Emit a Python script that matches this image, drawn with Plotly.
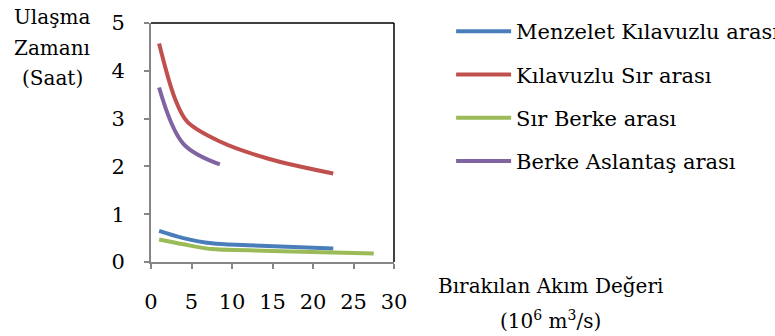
import plotly.graph_objects as go

# Released discharge (10^6 m3/s) and travel time (hours) per river reach
series_names = [
    "Menzelet Kılavuzlu arası",
    "Kılavuzlu Sır arası",
    "Sır Berke arası",
    "Berke Aslantaş arası",
]
series_x = [
    [1, 4, 7.5, 12, 22.5],
    [1, 3, 4.5, 8.5, 14.3, 22.5],
    [1, 4, 7.5, 12, 22.5, 27.5],
    [1, 4, 8.5],
]
series_y = [
    [0.65, 0.50, 0.39, 0.35, 0.28],
    [4.57, 3.40, 2.93, 2.52, 2.17, 1.85],
    [0.47, 0.37, 0.27, 0.245, 0.20, 0.18],
    [3.65, 2.47, 2.04],
]
series_colors = ["#4A7EBB", "#C0504D", "#9BBB59", "#8064A2"]

x_ticks = [0, 5, 10, 15, 20, 25, 30]
y_ticks = [0, 1, 2, 3, 4, 5]
y_title_lines = ["Ulaşma", "Zamanı", "(Saat)"]

FONT = "DejaVu Serif"
AXIS_GREY = "#868686"

fig = go.Figure()
for name, xs, ys, col in zip(series_names, series_x, series_y, series_colors):
    fig.add_trace(go.Scatter(
        x=xs, y=ys, name=name, mode="lines",
        line=dict(color=col, width=4, shape="spline", smoothing=1.0),
        legendgroup=name,
    ))

axis_common = dict(
    showgrid=False, zeroline=False, showline=True, linecolor=AXIS_GREY,
    linewidth=2, ticks="outside", ticklen=5, tickwidth=2, tickcolor=AXIS_GREY,
    tickfont=dict(family=FONT, size=21, color="black"),
    ticklabelstandoff=15,
)
fig.update_xaxes(range=[0, 30], tickvals=x_ticks, **axis_common)
fig.update_yaxes(range=[0, 5], tickvals=y_ticks, **axis_common)

# top and right frame edges in black
fig.add_shape(type="line", xref="paper", yref="paper", x0=0, x1=1, y0=1, y1=1,
              line=dict(color="black", width=1.5))
fig.add_shape(type="line", xref="paper", yref="paper", x0=1, x1=1, y0=0, y1=1,
              line=dict(color="black", width=1.5))

title_font = dict(family=FONT, size=20, color="black")
for line_text, ypos in zip(y_title_lines, [1.025, 0.895, 0.770]):
    fig.add_annotation(text=line_text, xref="paper", yref="paper",
                       x=-0.407, y=ypos, xanchor="center", yanchor="middle",
                       showarrow=False, font=title_font)
fig.add_annotation(text="Bırakılan Akım Değeri", xref="paper", yref="paper",
                   x=1.646, y=-0.100, xanchor="center", yanchor="middle",
                   showarrow=False, font=title_font)
fig.add_annotation(text="(10<sup>6</sup> m<sup>3</sup>/s)", xref="paper", yref="paper",
                   x=1.646, y=-0.243, xanchor="center", yanchor="middle",
                   showarrow=False, font=title_font)

fig.update_layout(
    width=775, height=336,
    margin=dict(l=151, r=381, t=23, b=74, autoexpand=False),
    plot_bgcolor="white", paper_bgcolor="white",
    showlegend=True,
    legend=dict(
        x=1.235, y=1.05, xanchor="left", yanchor="top",
        font=dict(family=FONT, size=21, color="black"),
        traceorder="grouped", tracegroupgap=13, itemwidth=55,
        bgcolor="rgba(0,0,0,0)", maxheight=400,
    ),
)

fig.write_html("out.html")
